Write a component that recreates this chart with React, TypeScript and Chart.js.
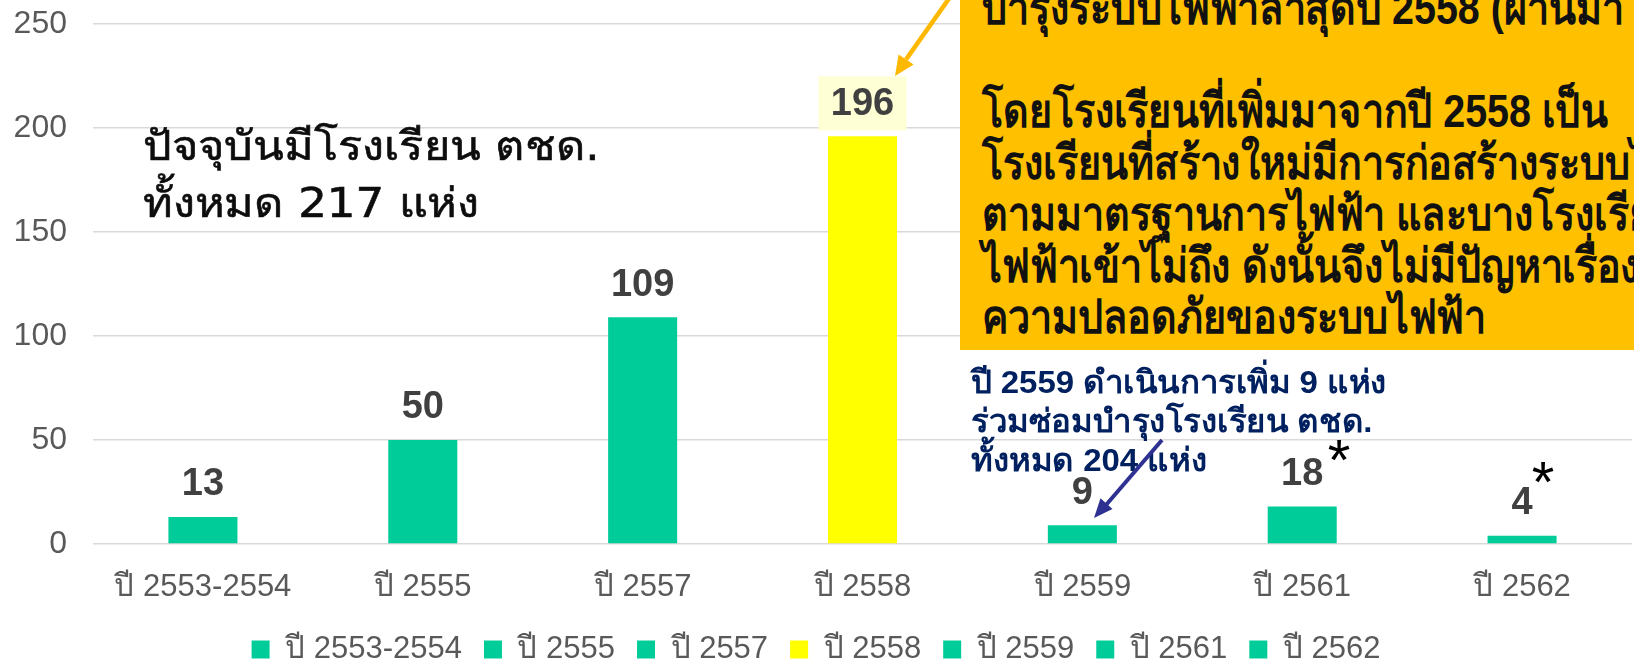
import React, { useEffect, useRef } from "react";
import { Chart, registerables } from "chart.js";

Chart.register(...registerables);

// ---- data ----
const categories = ["ปี 2553-2554", "ปี 2555", "ปี 2557", "ปี 2558", "ปี 2559", "ปี 2561", "ปี 2562"];
const schoolCounts = [13, 50, 109, 196, 9, 18, 4];
const barColors = ["#00CC99", "#00CC99", "#00CC99", "#FFFF00", "#00CC99", "#00CC99", "#00CC99"];
const yTickValues = [0, 50, 100, 150, 200, 250];
const highlightedIndex = 3;

const orangeNoteLines = [
  "บำรุงระบบไฟฟ้าล่าสุดปี 2558 (ผ่านมา",
  "",
  "โดยโรงเรียนที่เพิ่มมาจากปี 2558 เป็น",
  "โรงเรียนที่สร้างใหม่มีการก่อสร้างระบบไฟฟ้า",
  "ตามมาตรฐานการไฟฟ้า และบางโรงเรียน",
  "ไฟฟ้าเข้าไม่ถึง ดังนั้นจึงไม่มีปัญหาเรื่อง",
  "ความปลอดภัยของระบบไฟฟ้า",
];
const totalNoteLines = ["ปัจจุบันมีโรงเรียน ตชด.", "ทั้งหมด 217 แห่ง"];
const note2559Lines = ["ปี 2559 ดำเนินการเพิ่ม 9 แห่ง", "ร่วมซ่อมบำรุงโรงเรียน ตชด.", "ทั้งหมด 204 แห่ง"];

const AXIS_FONT = "'Liberation Sans', Arial, sans-serif";
const WIDE_FONT = "'DejaVu Sans', sans-serif";

const valueLabels = {
  id: "valueLabels",
  afterDatasetsDraw(chart: any) {
    const ctx = chart.ctx;
    const meta = chart.getDatasetMeta(0);
    ctx.save();
    ctx.font = "bold 38px 'Liberation Sans', Arial, sans-serif";
    ctx.textAlign = "center";
    ctx.textBaseline = "middle";
    meta.data.forEach((bar: any, i: number) => {
      const x = bar.x;
      const y = bar.y - 33;
      if (i === highlightedIndex) {
        ctx.fillStyle = "#FFFFD5";
        ctx.fillRect(x - 44, y - 27, 88, 54);
      }
      ctx.fillStyle = "#404040";
      ctx.fillText(String(schoolCounts[i]), x, y + 1);
    });
    ctx.restore();
  },
};

function ChartCanvas() {
  const ref = useRef<HTMLCanvasElement | null>(null);
  useEffect(() => {
    if (!ref.current) return;
    const chart = new Chart(ref.current, {
      type: "bar",
      data: {
        labels: categories,
        datasets: [
          {
            data: schoolCounts,
            backgroundColor: barColors,
            borderWidth: 0,
            categoryPercentage: 1,
            barPercentage: 0.314,
          },
        ],
      },
      options: {
        animation: false,
        responsive: false,
        maintainAspectRatio: false,
        layout: { padding: { left: 0, right: 2, top: 24, bottom: -12 } },
        scales: {
          x: {
            grid: { display: false, drawTicks: false },
            border: { display: false },
            ticks: {
              color: "#595959",
              font: { size: 31, family: AXIS_FONT },
              padding: 25,
              maxRotation: 0,
              autoSkip: false,
            },
            afterFit: (s: any) => {
              s.height = 68;
            },
          },
          y: {
            min: 0,
            max: 250,
            afterBuildTicks: (s: any) => {
              s.ticks = yTickValues.map((v) => ({ value: v }));
            },
            ticks: { color: "#595959", font: { size: 32, family: AXIS_FONT }, padding: 26 },
            grid: { color: "#D9D9D9", lineWidth: 1.5, drawTicks: false },
            border: { display: false },
            afterFit: (s: any) => {
              s.width = 93;
              s.paddingTop = 0;
              s.paddingBottom = 0;
            },
          },
        },
        plugins: {
          tooltip: { enabled: false },
          legend: {
            position: "bottom",
            onClick: () => {},
            labels: {
              boxWidth: 18,
              boxHeight: 18,
              padding: 22,
              color: "#595959",
              font: { size: 31, family: AXIS_FONT },
              generateLabels: () =>
                categories.map((c, i) => ({
                  text: c,
                  fillStyle: barColors[i],
                  strokeStyle: barColors[i],
                  lineWidth: 0,
                  hidden: false,
                  index: i,
                  fontColor: "#595959",
                })),
            },
          },
        },
      },
      plugins: [valueLabels],
    } as any);
    return () => chart.destroy();
  }, []);
  return <canvas ref={ref} width={1634} height={663} style={{ display: "block", position: "absolute", left: 0, top: 0 }} />;
}

export default function App() {
  const abs: React.CSSProperties = { position: "absolute", whiteSpace: "nowrap" };
  return (
    <div style={{ position: "relative", width: 1634, height: 663, overflow: "hidden", background: "#fff" }}>
      <style>{`html,body{margin:0;padding:0;overflow:hidden;background:#fff}`}</style>
      <ChartCanvas />
      {/* orange note box */}
      <div style={{ ...abs, left: 960, top: -20, width: 800, height: 370, background: "#FFC000", overflow: "hidden" }}>
        {orangeNoteLines.map((t, i) => (
          <div
            key={i}
            style={{
              ...abs,
              left: 22,
              top: 20 + 8 + i * 51.5 - 30,
              height: 60,
              lineHeight: "60px",
              fontSize: 47,
              fontWeight: 700,
              fontFamily: AXIS_FONT,
              color: "#111",
              transform: "scaleX(0.84)",
              transformOrigin: "0 50%",
            }}
          >
            {t}
          </div>
        ))}
      </div>
      {/* total note */}
      {totalNoteLines.map((t, i) => (
        <div
          key={i}
          style={{
            ...abs,
            left: 143,
            top: 146 + i * 57 - 30,
            height: 60,
            lineHeight: "60px",
            fontSize: 41,
            fontFamily: WIDE_FONT,
            color: "#0D0D0D",
            transform: "scaleX(1.1)",
            transformOrigin: "0 50%",
            WebkitTextStroke: "0.6px #0D0D0D",
          }}
        >
          {t}
        </div>
      ))}
      {/* 2559 note */}
      {note2559Lines.map((t, i) => (
        <div
          key={i}
          style={{
            ...abs,
            left: 971,
            top: 382 + i * 39 - 20,
            height: 40,
            lineHeight: "40px",
            fontSize: 32,
            fontWeight: 700,
            fontFamily: AXIS_FONT,
            color: "#002060",
            transform: "scaleX(1.03)",
            transformOrigin: "0 50%",
          }}
        >
          {t}
        </div>
      ))}
      {/* asterisks */}
      <div style={{ ...abs, left: 1309, top: 431, width: 60, textAlign: "center", fontSize: 58, lineHeight: "58px", fontFamily: AXIS_FONT, color: "#000" }}>*</div>
      <div style={{ ...abs, left: 1513, top: 453, width: 60, textAlign: "center", fontSize: 58, lineHeight: "58px", fontFamily: AXIS_FONT, color: "#000" }}>*</div>
      {/* arrows */}
      <svg width={1634} height={663} style={{ position: "absolute", left: 0, top: 0, pointerEvents: "none" }}>
        <line x1={955} y1={-10} x2={906.1} y2={59.4} stroke="#FFB800" strokeWidth={4.5} />
        <polygon points="895,76 913.6,64.4 898.6,54.4" fill="#FFB800" />
        <line x1={1162} y1={440} x2={1106} y2={505} stroke="#2E3192" strokeWidth={4} />
        <polygon points="1094,518 1112.5,509 1100.5,498.3" fill="#2E3192" />
      </svg>
    </div>
  );
}
